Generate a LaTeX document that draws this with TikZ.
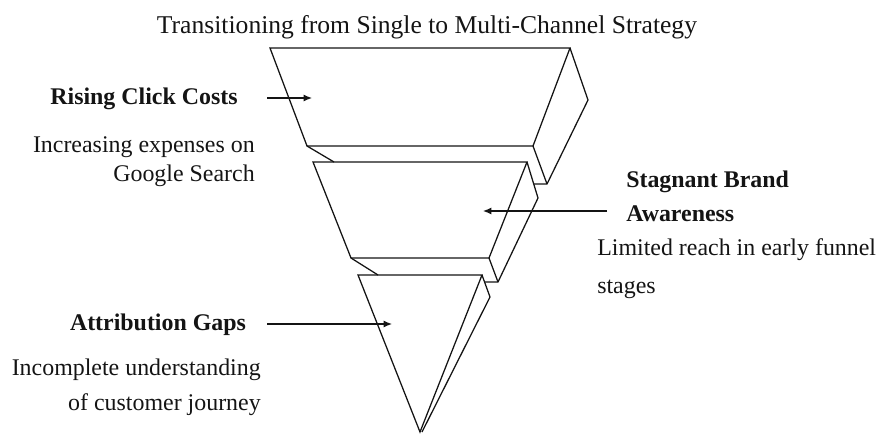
\documentclass[tikz,border=0pt]{standalone}
\usepackage{fontspec}
\setmainfont{Liberation Serif}
\usepackage{tikz}
\usetikzlibrary{arrows.meta}
\definecolor{inkblack}{RGB}{20,20,20}

\begin{document}
\begin{tikzpicture}[x=0.025cm, y=-0.025cm,
	heading/.style={font={\fontsize{17}{20}\selectfont\bfseries}, inner sep=0pt, text=inkblack},
	note/.style={font={\fontsize{17}{20}\selectfont}, inner sep=0pt, text=inkblack},
	edge/.style={draw=inkblack, line width=0.9pt, line join=miter},
	pointer/.style={draw=inkblack, line width=0.8pt, -{Latex[length=6pt,width=5pt]}}]
	\useasboundingbox (0,0) rectangle (880,434);
	\node[note, font={\fontsize{18.2}{21}\selectfont}, anchor=base] (title) at (427,33) {Transitioning from Single to Multi-Channel Strategy};
	% top block
	\draw[edge] (270,48) -- (570,48) -- (533,146) -- (307,146) -- cycle;
	\draw[edge] (570,48) -- (588,100) -- (547,184) -- (534,184);
	\draw[edge] (533,146) -- (547,184);
	\draw[edge] (307,146) -- (334,162);
	% middle block
	\draw[edge] (313,162) -- (527,162) -- (489,258) -- (351,258) -- cycle;
	\draw[edge] (527,162) -- (538,198) -- (498,282) -- (485,282);
	\draw[edge] (489,258) -- (498,282);
	\draw[edge] (351,258) -- (378,275);
	% bottom triangle
	\draw[edge] (358,275) -- (482,275) -- (420,432) -- cycle;
	\draw[edge] (482,275) -- (490,297) -- (422,432);
	% labels
	\node[heading, anchor=base] (rising) at (144,104) {Rising Click Costs};
	\node[note, anchor=base east] (risingA) at (255,152) {Increasing expenses on};
	\node[note, anchor=base east] (risingB) at (255,181) {Google Search};
	\node[heading, anchor=base west] (brandA) at (626,187) {Stagnant Brand};
	\node[heading, anchor=base west] (brandB) at (626,221) {Awareness};
	\node[note, anchor=base west] (reachA) at (597,255) {Limited reach in early funnel};
	\node[note, anchor=base west] (reachB) at (597,293) {stages};
	\node[heading, anchor=base] (attrib) at (158,330) {Attribution Gaps};
	\node[note, anchor=base east] (attribA) at (261,375) {Incomplete understanding};
	\node[note, anchor=base east] (attribB) at (261,410) {of customer journey};
	% pointers
	\coordinate (risingTail) at (267,98);
	\coordinate (risingTip) at (312,98);
	\coordinate (brandTail) at (607,211);
	\coordinate (brandTip) at (483,211);
	\coordinate (attribTail) at (267,324);
	\coordinate (attribTip) at (392,324);
	\draw[pointer] (risingTail) -- (risingTip);
	\draw[pointer] (brandTail) -- (brandTip);
	\draw[pointer] (attribTail) -- (attribTip);
\end{tikzpicture}
\end{document}
